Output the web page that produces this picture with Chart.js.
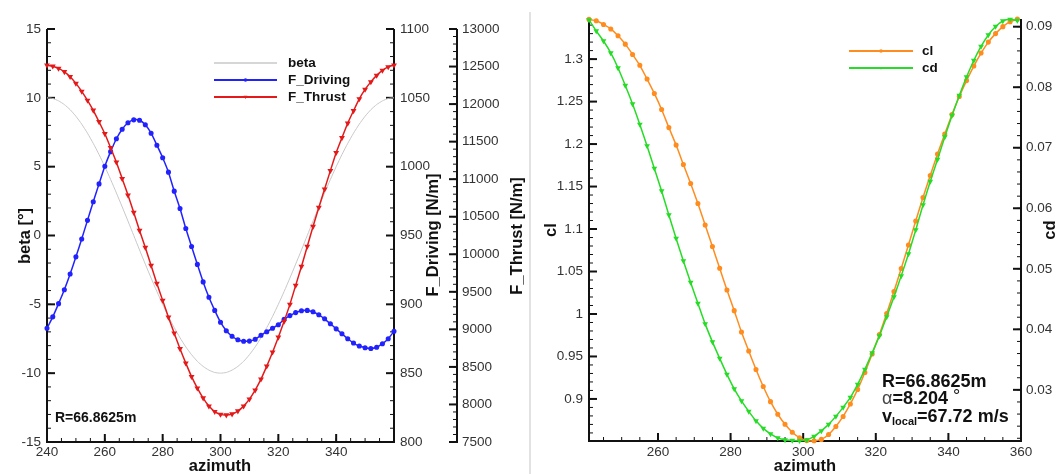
<!DOCTYPE html>
<html lang="en">
<head>
<meta charset="UTF-8">
<title>Azimute | cargas e coeficientes</title>
<script src="https://cdn.jsdelivr.net/npm/chart.js"></script>
<style>
    body { margin: 0; background: #fff; }
    .janela { position: relative; width: 1059px; height: 474px; overflow: hidden; }
    #esq { position: absolute; left: 0; top: 0; }
    #dir { position: absolute; left: 530px; top: 0; }
    .sep { position: absolute; left: 529px; top: 12px; width: 2px; height: 462px; background: #e2e2e2; }
</style>
</head>
<body>
<div class="janela">
    <canvas id="esq" width="530" height="474"></canvas>
    <canvas id="dir" width="529" height="474"></canvas>
    <div class="sep"></div>
</div>

<script>
    // ---- dados do grafico da esquerda (a cada 2 graus)
    const azEsq = [240, 242, 244, 246, 248, 250, 252, 254, 256, 258, 260, 262, 264, 266, 268, 270, 272, 274, 276, 278,
        280, 282, 284, 286, 288, 290, 292, 294, 296, 298, 300, 302, 304, 306, 308, 310, 312, 314, 316, 318,
        320, 322, 324, 326, 328, 330, 332, 334, 336, 338, 340, 342, 344, 346, 348, 350, 352, 354, 356, 358, 360];

    const beta = [10, 9.95, 9.78, 9.51, 9.14, 8.66, 8.09, 7.43, 6.69, 5.88, 5, 4.07, 3.09, 2.08, 1.05, 0,
        -1.05, -2.08, -3.09, -4.07, -5, -5.88, -6.69, -7.43, -8.09, -8.66, -9.14, -9.51, -9.78, -9.95, -10,
        -9.95, -9.78, -9.51, -9.14, -8.66, -8.09, -7.43, -6.69, -5.88, -5, -4.07, -3.09, -2.08, -1.05, 0,
        1.05, 2.08, 3.09, 4.07, 5, 5.88, 6.69, 7.43, 8.09, 8.66, 9.14, 9.51, 9.78, 9.95, 10];

    const fDriving = [882.6, 890.9, 900.5, 910.6, 922.0, 934.5, 947.5, 961.0, 974.5, 987.5,
        1000.3, 1010.9, 1020.3, 1027.2, 1031.9, 1034.0, 1033.7, 1030.4, 1024.3, 1015.6,
        1006.5, 996.0, 982.2, 969.6, 955.1, 942.0, 929.0, 916.3, 905.1, 895.6,
        887.0, 880.8, 876.8, 874.3, 873.2, 873.3, 874.6, 877.5, 880.1, 882.6,
        885.2, 889.1, 891.8, 894.0, 895.3, 895.6, 894.6, 892.4, 889.5, 885.9,
        882.2, 878.6, 875.0, 871.9, 869.7, 868.5, 867.9, 868.8, 871.4, 875.0, 880.4];

    const fThrust = [12518, 12505, 12475, 12430, 12365, 12276, 12170, 12050, 11917, 11764,
        11605, 11419, 11226, 11007, 10788, 10556, 10316, 10091, 9851, 9612,
        9386, 9161, 8948, 8742, 8550, 8370, 8217, 8085, 7978, 7905,
        7868, 7859, 7872, 7912, 7978, 8071, 8191, 8337, 8510, 8696,
        8895, 9107, 9333, 9586, 9838, 10104, 10370, 10622, 10868, 11114,
        11353, 11552, 11745, 11911, 12070, 12196, 12296, 12382, 12449, 12495, 12518];

    // ---- dados do grafico da direita (graus impares)
    const azDir = [241, 243, 245, 247, 249, 251, 253, 255, 257, 259, 261, 263, 265, 267, 269, 271, 273, 275, 277, 279,
        281, 283, 285, 287, 289, 291, 293, 295, 297, 299, 301, 303, 305, 307, 309, 311, 313, 315, 317, 319,
        321, 323, 325, 327, 329, 331, 333, 335, 337, 339, 341, 343, 345, 347, 349, 351, 353, 355, 357, 359];

    const cl = [1.3467, 1.3451, 1.3408, 1.3355, 1.3274, 1.3176, 1.3055, 1.2927, 1.2765, 1.2596,
        1.2406, 1.2194, 1.1988, 1.1759, 1.1535, 1.1300, 1.1047, 1.0794, 1.0538, 1.0282,
        1.0039, 0.9788, 0.9565, 0.9347, 0.9147, 0.8968, 0.8820, 0.8702, 0.8608, 0.8544,
        0.8510, 0.8508, 0.8524, 0.8582, 0.8676, 0.8794, 0.8941, 0.9112, 0.9312, 0.9529,
        0.9759, 1.0006, 1.0265, 1.0535, 1.0812, 1.1094, 1.1371, 1.1629, 1.1882, 1.2118,
        1.2347, 1.2559, 1.2747, 1.2918, 1.3071, 1.3200, 1.3300, 1.3382, 1.3441, 1.3471];

    const cd = [0.09111, 0.08929, 0.08764, 0.08566, 0.08318, 0.08029, 0.07723, 0.07385, 0.07030, 0.06658,
        0.06287, 0.05890, 0.05502, 0.05130, 0.04775, 0.04429, 0.04090, 0.03793, 0.03520, 0.03256,
        0.03017, 0.02818, 0.02645, 0.02488, 0.02364, 0.02273, 0.02207, 0.02174, 0.02163, 0.02158,
        0.02174, 0.02232, 0.02323, 0.02430, 0.02562, 0.02711, 0.02876, 0.03091, 0.03339, 0.03611,
        0.03892, 0.04206, 0.04536, 0.04883, 0.05246, 0.05642, 0.06055, 0.06443, 0.06807, 0.07178,
        0.07533, 0.07864, 0.08169, 0.08442, 0.08673, 0.08863, 0.09003, 0.09094, 0.09122, 0.09102];

    // ---- rotulos dos eixos
    const xTicksEsq = [240, 260, 280, 300, 320, 340];
    const betaTicks = [-15, -10, -5, 0, 5, 10, 15];
    const drivingTicks = [800, 850, 900, 950, 1000, 1050, 1100];
    const thrustTicks = [7500, 8000, 8500, 9000, 9500, 10000, 10500, 11000, 11500, 12000, 12500, 13000];
    const xTicksDir = [260, 280, 300, 320, 340, 360];
    const clTicks = [0.9, 0.95, 1, 1.05, 1.1, 1.15, 1.2, 1.25, 1.3];
    const cdTicks = [0.03, 0.04, 0.05, 0.06, 0.07, 0.08, 0.09];

    const FONTE = '"Liberation Sans", Arial, Helvetica, sans-serif';
    Chart.defaults.font.family = FONTE;
    Chart.defaults.font.size = 13.5;
    Chart.defaults.color = '#333';

    function pares(xs, ys) {
        return xs.map(function (x, i) { return { x: x, y: ys[i] }; });
    }

    // marcador (bolinha ou triangulo pra baixo)
    function marcador(ctx, tipo, x, y, r, cor) {
        ctx.fillStyle = cor;
        ctx.beginPath();
        if (tipo === 'triangle') {
            ctx.moveTo(x - r, y - r * 0.6);
            ctx.lineTo(x + r, y - r * 0.6);
            ctx.lineTo(x, y + r);
            ctx.closePath();
        } else {
            ctx.arc(x, y, r, 0, Math.PI * 2);
        }
        ctx.fill();
    }

    // eixos estilo tecplot: linha + ticks para dentro
    const moldura = {
        id: 'moldura',
        beforeDatasetsDraw(chart, args, o) {
            const ctx = chart.ctx;
            const a = chart.chartArea;
            ctx.save();
            ctx.strokeStyle = '#111';
            o.eixos.forEach(function (ax) {
                const s = chart.scales[ax.id];
                const horiz = ax.lado === 'bottom';
                const base = horiz ? s.top : (ax.lado === 'left' ? s.right : s.left);
                const dir = ax.lado === 'right' ? -1 : 1;
                ctx.lineWidth = 2;
                ctx.beginPath();
                if (horiz) { ctx.moveTo(a.left - 1, base); ctx.lineTo(a.right + 1, base); }
                else { ctx.moveTo(base, a.top); ctx.lineTo(base, a.bottom + 1); }
                ctx.stroke();

                function tick(v, len) {
                    const p = s.getPixelForValue(v);
                    ctx.beginPath();
                    if (horiz) { ctx.moveTo(p, base); ctx.lineTo(p, base - len); }
                    else { ctx.moveTo(base, p); ctx.lineTo(base + dir * len, p); }
                    ctx.stroke();
                }
                ctx.lineWidth = 1;
                for (let k = Math.ceil(s.min / ax.menor - 1e-6); k * ax.menor <= s.max + 1e-9; k++) {
                    tick(k * ax.menor, 4);
                }
                ctx.lineWidth = 2;
                s.ticks.forEach(function (t) { tick(t.value, 8); });
            });
            ctx.restore();
        },
        afterDraw(chart, args, o) {
            const ctx = chart.ctx;
            ctx.save();
            ctx.fillStyle = '#111';
            ctx.textBaseline = 'middle';

            // titulos dos eixos
            o.titulos.forEach(function (t) {
                ctx.save();
                ctx.font = 'bold 16.5px ' + FONTE;
                ctx.textAlign = 'center';
                ctx.translate(t.x, t.y);
                if (t.vertical) ctx.rotate(-Math.PI / 2);
                ctx.textBaseline = t.vertical ? 'middle' : 'alphabetic';
                ctx.fillText(t.texto, 0, 0);
                ctx.restore();
            });

            // legenda
            const L = o.legenda;
            L.itens.forEach(function (idx, i) {
                const ds = chart.data.datasets[idx];
                const y = L.y + i * L.dy;
                ctx.strokeStyle = ds.borderColor;
                ctx.lineWidth = ds.borderWidth + 0.3;
                ctx.beginPath();
                ctx.moveTo(L.x0, y);
                ctx.lineTo(L.x1, y);
                ctx.stroke();
                if (ds.pointRadius > 0) marcador(ctx, ds.pointStyle, (L.x0 + L.x1) / 2, y, ds.pointRadius, ds.borderColor);
                ctx.fillStyle = '#111';
                ctx.font = 'bold 13.5px ' + FONTE;
                ctx.textAlign = 'left';
                ctx.fillText(ds.label, L.tx, y);
            });

            if (o.notas) o.notas(ctx);
            ctx.restore();
        }
    };

    function escalaY(pos, min, max, lista, largura, pad) {
        return {
            type: 'linear', position: pos, min: min, max: max,
            grid: { display: false, drawTicks: false },
            border: { display: false },
            ticks: { padding: pad, callback: function (v) { return String(v); } },
            afterBuildTicks: function (s) { s.ticks = lista.map(function (v) { return { value: v }; }); },
            afterFit: function (s) { s.width = largura; }
        };
    }

    function escalaX(min, max, lista, altura, pad) {
        return {
            type: 'linear', position: 'bottom', min: min, max: max,
            grid: { display: false, drawTicks: false },
            border: { display: false },
            ticks: { padding: pad, maxRotation: 0, autoSkip: false, callback: function (v) { return String(v); } },
            afterBuildTicks: function (s) { s.ticks = lista.map(function (v) { return { value: v }; }); },
            afterFit: function (s) { s.height = altura; }
        };
    }

    // ---------------- grafico da esquerda
    new Chart(document.getElementById('esq'), {
        type: 'line',
        data: {
            datasets: [{
                label: 'beta',
                data: pares(azEsq, beta),
                yAxisID: 'yb',
                borderColor: '#c8c8c8',
                borderWidth: 1,
                pointRadius: 0,
                order: 3
            }, {
                label: 'F_Driving',
                data: pares(azEsq, fDriving),
                yAxisID: 'yd',
                borderColor: '#2222ff',
                backgroundColor: '#2222ff',
                borderWidth: 1.5,
                pointStyle: 'circle',
                pointRadius: 1.8,
                order: 2
            }, {
                label: 'F_Thrust',
                data: pares(azEsq, fThrust),
                yAxisID: 'yt',
                borderColor: '#e41a1a',
                backgroundColor: '#e41a1a',
                borderWidth: 1.5,
                pointStyle: 'triangle',
                pointRotation: 180,
                pointRadius: 1.9,
                order: 1
            }]
        },
        options: {
            responsive: false,
            animation: false,
            events: [],
            clip: false,
            layout: { padding: { top: 29, left: 0, right: 0, bottom: 0 } },
            elements: { line: { tension: 0.2 }, point: { borderWidth: 0 } },
            scales: {
                x: escalaX(240, 360, xTicksEsq, 32, 2),
                yb: escalaY('left', -15, 15, betaTicks, 47, 6),
                yd: escalaY('right', 800, 1100, drivingTicks, 63, 6),
                yt: escalaY('right', 7500, 13000, thrustTicks, 73, 5)
            },
            plugins: {
                legend: { display: false },
                tooltip: { enabled: false },
                moldura: {
                    eixos: [
                        { id: 'x', lado: 'bottom', menor: 5 },
                        { id: 'yb', lado: 'left', menor: 1 },
                        { id: 'yd', lado: 'right', menor: 10 },
                        { id: 'yt', lado: 'right', menor: 100 }
                    ],
                    titulos: [
                        { texto: 'azimuth', x: 220, y: 471 },
                        { texto: 'beta [°]', x: 25, y: 236, vertical: true },
                        { texto: 'F_Driving [N/m]', x: 433, y: 235, vertical: true },
                        { texto: 'F_Thrust [N/m]', x: 517, y: 236, vertical: true }
                    ],
                    legenda: { itens: [0, 1, 2], x0: 214, x1: 277, tx: 288, y: 63, dy: 17 },
                    notas: function (ctx) {
                        ctx.font = 'bold 14px ' + FONTE;
                        ctx.textAlign = 'left';
                        ctx.fillText('R=66.8625m', 55, 418);
                    }
                }
            }
        },
        plugins: [moldura]
    });

    // ---------------- grafico da direita
    new Chart(document.getElementById('dir'), {
        type: 'line',
        data: {
            datasets: [{
                label: 'cl',
                data: pares(azDir, cl),
                yAxisID: 'ycl',
                borderColor: '#ff8c1e',
                backgroundColor: '#ff8c1e',
                borderWidth: 1.5,
                pointStyle: 'circle',
                pointRadius: 1.8,
                order: 2
            }, {
                label: 'cd',
                data: pares(azDir, cd),
                yAxisID: 'ycd',
                borderColor: '#26dc26',
                backgroundColor: '#26dc26',
                borderWidth: 1.5,
                pointStyle: 'triangle',
                pointRotation: 180,
                pointRadius: 1.8,
                order: 1
            }]
        },
        options: {
            responsive: false,
            animation: false,
            events: [],
            clip: false,
            layout: { padding: { top: 19, left: 0, right: 0, bottom: 0 } },
            elements: { line: { tension: 0.2 }, point: { borderWidth: 0 } },
            scales: {
                x: escalaX(241, 360, xTicksDir, 33, 3),
                ycl: escalaY('left', 0.8505, 1.3472, clTicks, 59, 6),
                ycd: escalaY('right', 0.02155, 0.09127, cdTicks, 38, 5)
            },
            plugins: {
                legend: { display: false },
                tooltip: { enabled: false },
                moldura: {
                    eixos: [
                        { id: 'x', lado: 'bottom', menor: 5 },
                        { id: 'ycl', lado: 'left', menor: 0.01 },
                        { id: 'ycd', lado: 'right', menor: 0.002 }
                    ],
                    titulos: [
                        { texto: 'azimuth', x: 275, y: 471 },
                        { texto: 'cl', x: 21, y: 230, vertical: true },
                        { texto: 'cd', x: 520, y: 230, vertical: true }
                    ],
                    legenda: { itens: [0, 1], x0: 319, x1: 383, tx: 392, y: 51, dy: 17 },
                    notas: function (ctx) {
                        const x0 = 352;
                        const grande = 'bold 18px ' + FONTE;
                        ctx.textAlign = 'left';
                        ctx.font = grande;
                        ctx.fillText('R=66.8625m', x0, 382);

                        // alfa
                        let x = x0;
                        ctx.font = '18px ' + FONTE;
                        ctx.fillStyle = '#444';
                        ctx.fillText('α', x, 399);
                        x += ctx.measureText('α').width;
                        ctx.fillStyle = '#111';
                        ctx.font = grande;
                        ctx.fillText('=8.204', x, 399);
                        x += ctx.measureText('=8.204 ').width;
                        ctx.font = '18px ' + FONTE;
                        ctx.fillText('°', x, 397);

                        // v local
                        x = x0;
                        ctx.font = grande;
                        ctx.fillText('v', x, 417);
                        x += ctx.measureText('v').width;
                        ctx.font = 'bold 11px ' + FONTE;
                        ctx.fillText('local', x, 422);
                        x += ctx.measureText('local').width;
                        ctx.font = grande;
                        ctx.fillText('=67.72 m/s', x, 417);
                    }
                }
            }
        },
        plugins: [moldura]
    });
</script>
</body>
</html>
